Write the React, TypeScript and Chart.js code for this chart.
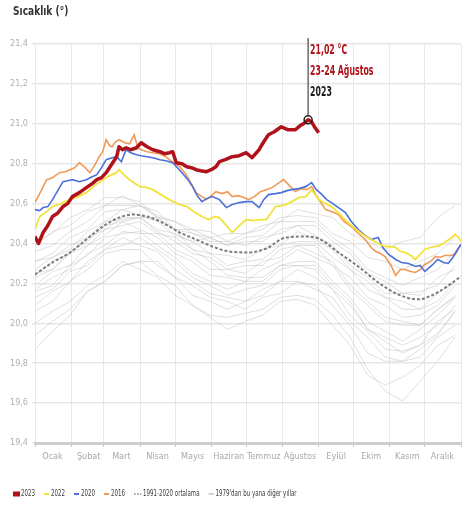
import React, { useEffect, useRef } from 'react';
import { Chart, registerables } from 'chart.js';

Chart.register(...registerables);

const FONT = "'Liberation Sans Narrow', 'DejaVu Sans Condensed', 'Roboto', sans-serif";

const titleText = 'Sıcaklık (°)';
const monthNames = ['Ocak', 'Şubat', 'Mart', 'Nisan', 'Mayıs', 'Haziran', 'Temmuz', 'Ağustos', 'Eylül', 'Ekim', 'Kasım', 'Aralık'];
const monthStartDays = [0, 31, 59, 90, 120, 151, 181, 212, 243, 273, 304, 334, 365];
const yTickValues = [19.4, 19.6, 19.8, 20.0, 20.2, 20.4, 20.6, 20.8, 21.0, 21.2, 21.4];

const legendLabels = ['2023', '2022', '2020', '2016', '1991-2020 ortalama', "1979'dan bu yana diğer yıllar"];
const annotationDate = '23-24 Ağustos';

// 2023
const days2023 = [0, 3, 7, 11, 15, 19, 24, 28, 32, 38, 44, 49, 53, 57, 61, 66, 70, 72, 75, 78, 82, 87, 91, 96, 101, 107, 111, 115, 118, 121, 126, 130, 134, 138, 142, 147, 151, 155, 158, 163, 169, 175, 181, 186, 192, 196, 200, 205, 211, 217, 223, 227, 230, 234, 237, 240, 243];
const temp2023 = [20.435, 20.40, 20.455, 20.49, 20.535, 20.55, 20.585, 20.60, 20.635, 20.655, 20.68, 20.70, 20.72, 20.73, 20.755, 20.80, 20.835, 20.885, 20.87, 20.88, 20.87, 20.88, 20.905, 20.885, 20.87, 20.86, 20.85, 20.855, 20.86, 20.805, 20.80, 20.785, 20.78, 20.77, 20.765, 20.76, 20.77, 20.785, 20.81, 20.82, 20.835, 20.84, 20.855, 20.83, 20.87, 20.91, 20.945, 20.96, 20.985, 20.97, 20.97, 20.99, 21.0, 21.02, 21.01, 20.98, 20.955];

// 2016
const days2016 = [0, 4, 10, 15, 21, 26, 30, 34, 38, 43, 47, 51, 55, 58, 61, 64, 66, 69, 72, 77, 81, 85, 88, 91, 96, 101, 107, 112, 115, 120, 124, 129, 134, 138, 143, 147, 151, 155, 160, 165, 169, 174, 179, 183, 188, 193, 198, 203, 208, 213, 218, 223, 228, 233, 237, 241, 245, 249, 254, 260, 265, 271, 277, 283, 288, 292, 296, 300, 305, 309, 313, 317, 322, 326, 330, 334, 339, 343, 347, 351, 356, 360, 365];
const temp2016 = [20.605, 20.65, 20.72, 20.73, 20.755, 20.76, 20.77, 20.78, 20.805, 20.78, 20.755, 20.79, 20.835, 20.86, 20.92, 20.89, 20.885, 20.91, 20.92, 20.905, 20.90, 20.945, 20.88, 20.87, 20.86, 20.855, 20.85, 20.835, 20.82, 20.80, 20.785, 20.75, 20.70, 20.655, 20.635, 20.62, 20.64, 20.66, 20.65, 20.66, 20.635, 20.64, 20.63, 20.62, 20.635, 20.66, 20.67, 20.68, 20.70, 20.72, 20.69, 20.66, 20.675, 20.67, 20.685, 20.64, 20.605, 20.57, 20.56, 20.545, 20.51, 20.485, 20.45, 20.42, 20.38, 20.36, 20.35, 20.335, 20.29, 20.24, 20.27, 20.27, 20.26, 20.255, 20.27, 20.295, 20.31, 20.335, 20.33, 20.34, 20.34, 20.345, 20.395];

// 2020
const days2020 = [0, 4, 7, 11, 15, 19, 24, 28, 32, 38, 44, 49, 53, 57, 61, 66, 70, 74, 78, 82, 87, 91, 96, 101, 107, 112, 118, 122, 126, 131, 135, 139, 143, 147, 152, 158, 164, 169, 175, 181, 186, 192, 196, 200, 206, 211, 216, 220, 226, 232, 237, 241, 245, 250, 254, 260, 266, 271, 277, 283, 288, 294, 298, 303, 309, 314, 320, 326, 330, 334, 340, 345, 350, 354, 358, 362, 365];
const temp2020 = [20.57, 20.565, 20.58, 20.585, 20.62, 20.66, 20.71, 20.715, 20.72, 20.71, 20.72, 20.735, 20.745, 20.78, 20.82, 20.83, 20.835, 20.81, 20.87, 20.855, 20.845, 20.84, 20.835, 20.83, 20.82, 20.815, 20.805, 20.78, 20.755, 20.72, 20.685, 20.64, 20.61, 20.625, 20.635, 20.62, 20.58, 20.595, 20.605, 20.61, 20.61, 20.58, 20.62, 20.645, 20.65, 20.655, 20.665, 20.67, 20.675, 20.685, 20.705, 20.67, 20.65, 20.62, 20.605, 20.58, 20.555, 20.51, 20.47, 20.44, 20.42, 20.43, 20.38, 20.345, 20.32, 20.305, 20.30, 20.285, 20.29, 20.26, 20.29, 20.32, 20.305, 20.30, 20.33, 20.37, 20.395];

// 2022
const days2022 = [0, 4, 10, 15, 22, 30, 37, 44, 51, 58, 64, 70, 72, 76, 81, 86, 90, 96, 101, 108, 115, 122, 130, 136, 143, 149, 154, 158, 164, 169, 175, 181, 187, 193, 198, 202, 206, 211, 215, 220, 226, 232, 237, 243, 249, 254, 259, 263, 269, 275, 281, 288, 294, 300, 305, 309, 313, 317, 322, 326, 330, 334, 339, 343, 347, 351, 356, 360, 363, 365];
const temp2022 = [20.47, 20.535, 20.56, 20.585, 20.60, 20.62, 20.635, 20.655, 20.69, 20.72, 20.74, 20.755, 20.77, 20.745, 20.72, 20.70, 20.685, 20.68, 20.67, 20.645, 20.62, 20.60, 20.585, 20.56, 20.535, 20.52, 20.535, 20.53, 20.49, 20.455, 20.49, 20.52, 20.515, 20.52, 20.52, 20.55, 20.585, 20.59, 20.595, 20.61, 20.63, 20.635, 20.67, 20.62, 20.60, 20.585, 20.56, 20.535, 20.50, 20.47, 20.445, 20.42, 20.40, 20.385, 20.385, 20.38, 20.36, 20.355, 20.34, 20.32, 20.345, 20.37, 20.38, 20.385, 20.39, 20.405, 20.425, 20.445, 20.43, 20.41];

// 1991-2020 average
const daysAverage = [0, 15, 30, 44, 58, 72, 84, 96, 109, 124, 138, 152, 166, 183, 198, 215, 232, 243, 260, 277, 294, 311, 328, 345, 365];
const tempAverage = [20.245, 20.305, 20.355, 20.42, 20.485, 20.53, 20.545, 20.535, 20.505, 20.455, 20.42, 20.385, 20.36, 20.355, 20.375, 20.43, 20.435, 20.425, 20.355, 20.285, 20.205, 20.145, 20.12, 20.155, 20.235];

// other years since 1979
const otherDays = [0, 15, 30, 45, 60, 75, 90, 105, 120, 135, 150, 165, 180, 195, 210, 225, 240, 255, 270, 285, 300, 315, 330, 345, 360];
const otherYearA = [20.00, 20.06, 20.11, 20.19, 20.24, 20.31, 20.27, 20.23, 20.14, 20.09, 20.04, 20.03, 20.05, 20.07, 20.13, 20.14, 20.12, 20.04, 19.93, 19.77, 19.66, 19.61, 19.71, 19.81, 19.93];
const otherYearB = [19.87, 19.96, 20.04, 20.16, 20.21, 20.29, 20.31, 20.24, 20.19, 20.09, 20.03, 19.97, 20.01, 20.04, 20.11, 20.12, 20.09, 19.99, 19.89, 19.74, 19.69, 19.73, 19.79, 19.89, 19.94];
const otherYearC = [20.06, 20.11, 20.21, 20.27, 20.35, 20.37, 20.37, 20.29, 20.23, 20.14, 20.11, 20.07, 20.11, 20.14, 20.21, 20.21, 20.19, 20.09, 19.99, 19.85, 19.81, 19.81, 19.87, 19.94, 20.06];
const otherYearD = [20.09, 20.16, 20.21, 20.31, 20.37, 20.43, 20.39, 20.36, 20.27, 20.21, 20.15, 20.13, 20.11, 20.17, 20.21, 20.27, 20.23, 20.17, 20.04, 19.96, 19.87, 19.86, 19.89, 20.01, 20.07];
const otherYearE = [20.16, 20.19, 20.29, 20.34, 20.43, 20.45, 20.46, 20.39, 20.33, 20.25, 20.21, 20.17, 20.21, 20.21, 20.29, 20.31, 20.31, 20.21, 20.13, 20.01, 19.96, 19.91, 19.97, 20.04, 20.13];
const otherYearF = [20.19, 20.26, 20.29, 20.39, 20.44, 20.51, 20.47, 20.43, 20.35, 20.31, 20.24, 20.23, 20.21, 20.27, 20.31, 20.37, 20.33, 20.29, 20.17, 20.09, 20.01, 19.99, 19.99, 20.07, 20.14];
const otherYearG = [20.23, 20.27, 20.36, 20.41, 20.49, 20.51, 20.53, 20.46, 20.41, 20.35, 20.33, 20.27, 20.29, 20.29, 20.37, 20.39, 20.39, 20.29, 20.23, 20.13, 20.09, 20.03, 20.04, 20.09, 20.19];
const otherYearH = [20.27, 20.33, 20.37, 20.46, 20.51, 20.57, 20.54, 20.51, 20.44, 20.41, 20.35, 20.34, 20.32, 20.37, 20.39, 20.46, 20.42, 20.37, 20.27, 20.21, 20.13, 20.11, 20.07, 20.15, 20.21];
const otherYearI = [20.31, 20.35, 20.43, 20.47, 20.56, 20.57, 20.59, 20.54, 20.51, 20.45, 20.43, 20.39, 20.41, 20.41, 20.47, 20.49, 20.49, 20.41, 20.35, 20.25, 20.21, 20.15, 20.16, 20.19, 20.29];
const otherYearJ = [20.24, 20.31, 20.35, 20.43, 20.47, 20.53, 20.53, 20.53, 20.47, 20.47, 20.43, 20.45, 20.45, 20.49, 20.51, 20.57, 20.55, 20.53, 20.45, 20.41, 20.37, 20.41, 20.43, 20.53, 20.59];
const otherYearK = [20.36, 20.39, 20.46, 20.51, 20.59, 20.59, 20.59, 20.53, 20.51, 20.47, 20.46, 20.41, 20.45, 20.47, 20.53, 20.54, 20.53, 20.45, 20.41, 20.33, 20.31, 20.27, 20.31, 20.35, 20.43];
const otherYearL = [20.39, 20.46, 20.49, 20.56, 20.59, 20.64, 20.59, 20.56, 20.47, 20.45, 20.41, 20.41, 20.39, 20.43, 20.45, 20.49, 20.44, 20.39, 20.29, 20.23, 20.15, 20.15, 20.14, 20.23, 20.27];
const otherYearM = [20.31, 20.33, 20.39, 20.43, 20.51, 20.52, 20.53, 20.47, 20.45, 20.41, 20.43, 20.39, 20.43, 20.44, 20.51, 20.51, 20.51, 20.43, 20.37, 20.27, 20.23, 20.19, 20.23, 20.27, 20.36];
const otherYearN = [20.41, 20.45, 20.53, 20.57, 20.63, 20.63, 20.61, 20.53, 20.47, 20.37, 20.31, 20.24, 20.23, 20.23, 20.29, 20.29, 20.27, 20.17, 20.09, 19.97, 19.93, 19.89, 19.93, 19.99, 20.09];
const otherYearO = [19.94, 20.01, 20.07, 20.16, 20.21, 20.29, 20.31, 20.31, 20.23, 20.19, 20.13, 20.11, 20.07, 20.13, 20.15, 20.21, 20.17, 20.13, 20.01, 19.93, 19.83, 19.81, 19.83, 19.93, 19.99];
const otherYearP = [20.13, 20.17, 20.26, 20.29, 20.37, 20.39, 20.43, 20.37, 20.31, 20.23, 20.19, 20.14, 20.17, 20.19, 20.27, 20.29, 20.29, 20.19, 20.11, 19.97, 19.91, 19.85, 19.89, 19.95, 20.06];
const otherYearQ = [20.17, 20.23, 20.27, 20.35, 20.39, 20.46, 20.45, 20.45, 20.37, 20.33, 20.27, 20.27, 20.25, 20.31, 20.33, 20.39, 20.35, 20.31, 20.19, 20.11, 20.03, 20.01, 19.99, 20.07, 20.13];
const otherYearR = [20.25, 20.27, 20.35, 20.39, 20.47, 20.49, 20.51, 20.45, 20.43, 20.37, 20.35, 20.29, 20.31, 20.32, 20.39, 20.41, 20.41, 20.33, 20.27, 20.17, 20.13, 20.07, 20.07, 20.11, 20.21];
const otherYears = [otherYearA, otherYearB, otherYearC, otherYearD, otherYearE, otherYearF, otherYearG, otherYearH, otherYearI, otherYearJ, otherYearK, otherYearL, otherYearM, otherYearN, otherYearO, otherYearP, otherYearQ, otherYearR];

const RED = '#b0121b';
const YELLOW = '#f2e23c';
const BLUE = '#4b70d8';
const ORANGE = '#f09a58';
const AVG = '#7c7c7c';
const GRAY = 'rgba(196,196,196,0.55)';

const toPoints = (xs: number[], ys: number[]) => xs.map((x, i) => ({ x, y: ys[i] }));

function squashText(ctx: CanvasRenderingContext2D, text: string, x: number, y: number, sx: number) {
  ctx.save();
  ctx.translate(x, y);
  ctx.scale(sx, 1);
  ctx.fillText(text, 0, 0);
  ctx.restore();
  return ctx.measureText(text).width * sx;
}

const overlayPlugin = {
  id: 'overlay',
  afterDraw(chart: any) {
    const ctx: CanvasRenderingContext2D = chart.ctx;
    const xs = chart.scales.x;
    const ys = chart.scales.y;

    // title
    ctx.save();
    ctx.fillStyle = '#333333';
    ctx.font = `bold 12px ${FONT}`;
    ctx.textBaseline = 'alphabetic';
    squashText(ctx, titleText, 13, 15, 0.84);
    ctx.restore();

    // annotation of the 2023 peak
    let pi = 0;
    temp2023.forEach((v, i) => { if (v > temp2023[pi]) pi = i; });
    const px = xs.getPixelForValue(days2023[pi]);
    const py = ys.getPixelForValue(temp2023[pi]);
    const top = ys.getPixelForValue(21.4);
    ctx.save();
    ctx.strokeStyle = '#222';
    ctx.lineWidth = 1;
    ctx.beginPath();
    ctx.moveTo(px, py - 4);
    ctx.lineTo(px, top - 6);
    ctx.stroke();
    ctx.lineWidth = 1.5;
    ctx.beginPath();
    ctx.arc(px, py, 4, 0, Math.PI * 2);
    ctx.stroke();
    ctx.font = `bold 14px ${FONT}`;
    ctx.textBaseline = 'alphabetic';
    ctx.fillStyle = RED;
    squashText(ctx, temp2023[pi].toFixed(2).replace('.', ',') + ' °C', px + 2, top + 10, 0.62);
    squashText(ctx, annotationDate, px + 2, top + 31, 0.62);
    ctx.fillStyle = '#1a1a1a';
    squashText(ctx, '2023', px + 2, top + 52, 0.62);
    ctx.restore();

    // legend
    const colors = [RED, YELLOW, BLUE, ORANGE, AVG, '#d0d0d0'];
    ctx.save();
    ctx.font = `9px ${FONT}`;
    ctx.textBaseline = 'middle';
    let cx = 13;
    const cy = 494;
    legendLabels.forEach((label, i) => {
      if (i === 0) {
        ctx.fillStyle = colors[i];
        ctx.fillRect(cx, cy - 2.5, 7, 5);
        cx += 8;
      } else if (i === 4) {
        ctx.strokeStyle = colors[i];
        ctx.lineWidth = 1.5;
        ctx.setLineDash([1.5, 1.5]);
        ctx.beginPath();
        ctx.moveTo(cx, cy);
        ctx.lineTo(cx + 7, cy);
        ctx.stroke();
        ctx.setLineDash([]);
        cx += 9;
      } else {
        ctx.strokeStyle = colors[i];
        ctx.lineWidth = 2;
        ctx.beginPath();
        ctx.moveTo(cx, cy);
        ctx.lineTo(cx + 5, cy);
        ctx.stroke();
        cx += 7;
      }
      ctx.fillStyle = '#3a3a3a';
      const w = squashText(ctx, label, cx, cy, 0.68);
      cx += w + 9;
    });
    ctx.restore();
  },
};

export default function App() {
  const ref = useRef<HTMLCanvasElement>(null);
  useEffect(() => {
    const canvas = ref.current!;
    const datasets: any[] = [
      { label: '2023', data: toPoints(days2023, temp2023), borderColor: RED, borderWidth: 3.5, borderJoinStyle: 'round' },
      { label: '2022', data: toPoints(days2022, temp2022), borderColor: YELLOW, borderWidth: 1.8 },
      { label: '2020', data: toPoints(days2020, temp2020), borderColor: BLUE, borderWidth: 1.6 },
      { label: '2016', data: toPoints(days2016, temp2016), borderColor: ORANGE, borderWidth: 1.6 },
      { label: '1991-2020 ortalama', data: toPoints(daysAverage, tempAverage), borderColor: AVG, borderWidth: 2, borderDash: [3, 2], cubicInterpolationMode: 'monotone', tension: 0.4 },
      ...otherYears.map((vals, i) => ({ label: 'other' + i, data: toPoints(otherDays, vals), borderColor: GRAY, borderWidth: 1 })),
    ];
    const chart = new Chart(canvas, {
      type: 'line',
      data: { datasets },
      options: {
        responsive: false,
        animation: false,
        layout: { padding: { left: 0, right: 2, top: 44, bottom: 34 } },
        elements: { point: { radius: 0 }, line: { tension: 0, fill: false } },
        plugins: { legend: { display: false }, tooltip: { enabled: false }, title: { display: false } },
        scales: {
          x: {
            type: 'linear',
            min: 0,
            max: 365,
            afterBuildTicks: (s: any) => { s.ticks = monthStartDays.map((v) => ({ value: v })); },
            afterFit: (s: any) => { s.height = 30; },
            grid: { color: '#e8e8e8', lineWidth: 1, tickLength: 4, tickColor: '#c8c8c8' },
            border: { display: true, color: '#cdcdcd', width: 3 },
            ticks: {
              autoSkip: false,
              maxRotation: 0,
              labelOffset: 17.5,
              padding: 4,
              color: '#a8a8a8',
              font: { family: FONT, size: 9 },
              callback: (_v: any, i: number) => monthNames[i] ?? '',
            },
          },
          y: {
            type: 'linear',
            min: 19.4,
            max: 21.4,
            afterBuildTicks: (s: any) => { s.ticks = yTickValues.map((v) => ({ value: v })); },
            afterFit: (s: any) => { s.width = 35; },
            grid: { color: '#e6e6e6', lineWidth: 1.5, tickLength: 3 },
            border: { display: false },
            ticks: {
              padding: 4,
              color: '#b0b0b0',
              font: { family: FONT, size: 9 },
              callback: (v: any) => Number(v).toFixed(1).replace('.', ','),
            },
          },
        },
      } as any,
      plugins: [overlayPlugin],
    });
    return () => chart.destroy();
  }, []);
  return (
    <div style={{ position: 'absolute', left: 0, top: 0, width: 465, height: 507, background: '#fff' }}>
      <canvas ref={ref} width={465} height={507} style={{ display: 'block' }} />
    </div>
  );
}
